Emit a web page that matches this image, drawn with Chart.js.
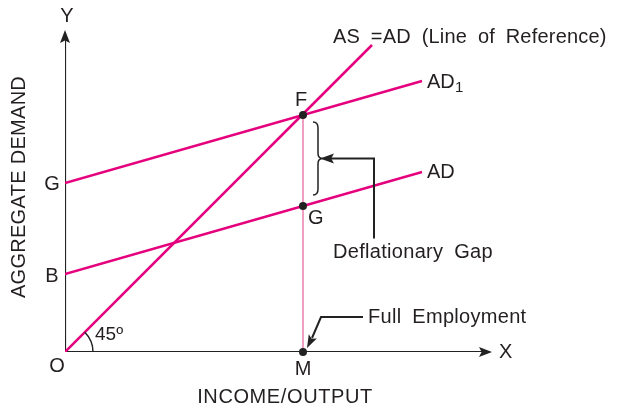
<!DOCTYPE html>
<html>
<head>
<meta charset="utf-8">
<script src="https://cdn.jsdelivr.net/npm/chart.js@4"></script>
<style>
  html, body { margin: 0; padding: 0; background: #fff; }
  #wrap { width: 617px; height: 410px; }
</style>
</head>
<body>
<div id="wrap"><canvas id="c"></canvas></div>
<script>
// 데이터 (x = 소득, y = 총수요)
const refLine = [[0, 0], [307, 307]];      // AS = AD (45도선)
const ad1Line = [[0, 169], [357, 271]];    // AD1
const adLine = [[0, 78], [357, 180]];      // AD
const fullEmp = [[238, 0], [238, 237]];    // 완전고용 수직선
const keyPoints = [[238, 237], [238, 146], [238, 0]]; // F, G, M
const pointNames = ['F', 'G', 'M'];
const interceptNames = ['G', 'B'];
const axisEnd = [427, 322];

const PINK = '#e5007d';
const FONT = '"Liberation Sans", Arial, sans-serif';
const toXY = (arr) => arr.map(([x, y]) => ({ x, y }));

const line = (data, color, width) => ({
  data: toXY(data), showLine: true, borderColor: color, borderWidth: width,
  pointRadius: 0, fill: false,
});

function arrowHead(ctx, x, y, ang, len, half) {
  ctx.save();
  ctx.translate(x, y);
  ctx.rotate(ang);
  ctx.beginPath();
  ctx.moveTo(0, 0);
  ctx.lineTo(-len, -half);
  ctx.lineTo(-len * 0.8, 0);
  ctx.lineTo(-len, half);
  ctx.closePath();
  ctx.fill();
  ctx.restore();
}

function txt(ctx, s, x, y, size, align, spacing) {
  ctx.font = size + 'px ' + FONT;
  ctx.textAlign = align || 'left';
  ctx.textBaseline = 'middle';
  ctx.letterSpacing = (spacing || 0) + 'px';
  ctx.fillText(s, x, y);
  ctx.letterSpacing = '0px';
}

const decor = {
  id: 'decor',
  afterDatasetsDraw(chart) {
    const { ctx, scales: { x, y } } = chart;
    const px = (v) => x.getPixelForValue(v);
    const py = (v) => y.getPixelForValue(v);
    const ox = px(0), oy = py(0);
    ctx.save();
    ctx.fillStyle = '#222';
    ctx.strokeStyle = '#222';

    // 축 화살표
    arrowHead(ctx, ox, py(axisEnd[1]), -Math.PI / 2, 13, 5);
    arrowHead(ctx, px(axisEnd[0]), oy, 0, 13, 5);

    // 45도 호
    ctx.lineWidth = 1.5;
    ctx.beginPath();
    ctx.arc(ox, oy, 28, -Math.PI / 4, 0);
    ctx.stroke();

    // 점
    keyPoints.forEach(([a, b]) => {
      ctx.beginPath();
      ctx.arc(px(a), py(b), 4, 0, Math.PI * 2);
      ctx.fill();
    });

    const fx = px(keyPoints[0][0]);
    const fy = py(keyPoints[0][1]);
    const gy = py(keyPoints[1][1]);

    // 중괄호
    const bx = fx + 10, top = fy + 7, bot = gy - 11, mid = (top + bot) / 2;
    ctx.lineWidth = 1.5;
    ctx.beginPath();
    ctx.moveTo(bx, top);
    ctx.quadraticCurveTo(bx + 5, top, bx + 5, top + 6);
    ctx.lineTo(bx + 5, mid - 5);
    ctx.quadraticCurveTo(bx + 5, mid, bx + 10, mid);
    ctx.quadraticCurveTo(bx + 5, mid, bx + 5, mid + 5);
    ctx.lineTo(bx + 5, bot - 6);
    ctx.quadraticCurveTo(bx + 5, bot, bx, bot);
    ctx.stroke();

    // 디플레이션 갭 화살표
    ctx.lineWidth = 2;
    ctx.beginPath();
    ctx.moveTo(fx + 71, mid + 80);
    ctx.lineTo(fx + 71, mid);
    ctx.lineTo(fx + 28, mid);
    ctx.stroke();
    arrowHead(ctx, fx + 17, mid, Math.PI, 14, 5);

    // 완전고용 화살표
    ctx.beginPath();
    ctx.moveTo(fx + 60, oy - 35);
    ctx.lineTo(fx + 18, oy - 35);
    ctx.lineTo(fx + 9, oy - 14);
    ctx.stroke();
    arrowHead(ctx, fx + 4, oy - 4, Math.atan2(10, -5), 13, 4.5);

    // 라벨
    ctx.fillStyle = '#231f20';
    txt(ctx, 'Y', ox + 2, 16, 20, 'center');
    txt(ctx, 'X', px(axisEnd[0]) + 7, oy, 20, 'left');
    txt(ctx, 'O', ox - 8, oy + 14, 20, 'center');
    txt(ctx, pointNames[2], fx, oy + 17, 20, 'center');
    txt(ctx, pointNames[0], fx - 2, fy - 15, 20, 'center');
    txt(ctx, pointNames[1], fx + 5, gy + 12, 20, 'left');
    txt(ctx, interceptNames[0], ox - 13, py(ad1Line[0][1]) + 1, 20, 'center');
    txt(ctx, interceptNames[1], ox - 13, py(adLine[0][1]) + 2, 20, 'center');
    txt(ctx, '45º', ox + 30, oy - 17, 19, 'left');

    const lx = px(ad1Line[1][0]) + 5;
    txt(ctx, 'AD', lx, py(ad1Line[1][1]) + 1, 20, 'left');
    txt(ctx, '1', lx + 28, py(ad1Line[1][1]) + 7, 15, 'left');
    txt(ctx, 'AD', lx, py(adLine[1][1]), 20, 'left');
    ctx.wordSpacing = '5px';
    txt(ctx, 'AS =AD (Line of Reference)', 333, 37, 20, 'left', 0.2);
    txt(ctx, 'Deflationary Gap', 333, 252, 20, 'left', 0.3);
    txt(ctx, 'Full Employment', fx + 65, oy - 35, 20, 'left', 0.3);
    ctx.wordSpacing = '0px';
    txt(ctx, 'INCOME/OUTPUT', 285, 397, 20, 'center', 0.6);

    ctx.save();
    ctx.translate(19, 187);
    ctx.rotate(-Math.PI / 2);
    txt(ctx, 'AGGREGATE DEMAND', 0, 0, 20, 'center', 0.3);
    ctx.restore();

    ctx.restore();
  },
};

new Chart(document.getElementById('c'), {
  type: 'scatter',
  data: {
    datasets: [
      line(fullEmp, '#ea7fae', 1.5),
      line(refLine, PINK, 2.5),
      line(ad1Line, PINK, 2.5),
      line(adLine, PINK, 2.5),
      line([[0, 0], [0, axisEnd[1] - 8]], '#222', 2.2),
      line([[0, 0], [axisEnd[0] - 8, 0]], '#222', 2.2),
    ],
  },
  options: {
    responsive: true,
    maintainAspectRatio: false,
    animation: false,
    layout: { padding: { left: 65, right: 122, top: 22, bottom: 58 } },
    plugins: { legend: { display: false }, tooltip: { enabled: false } },
    scales: {
      x: { type: 'linear', min: 0, max: 430, display: false },
      y: { type: 'linear', min: 0, max: 330, display: false },
    },
  },
  plugins: [decor],
});
</script>
</body>
</html>
